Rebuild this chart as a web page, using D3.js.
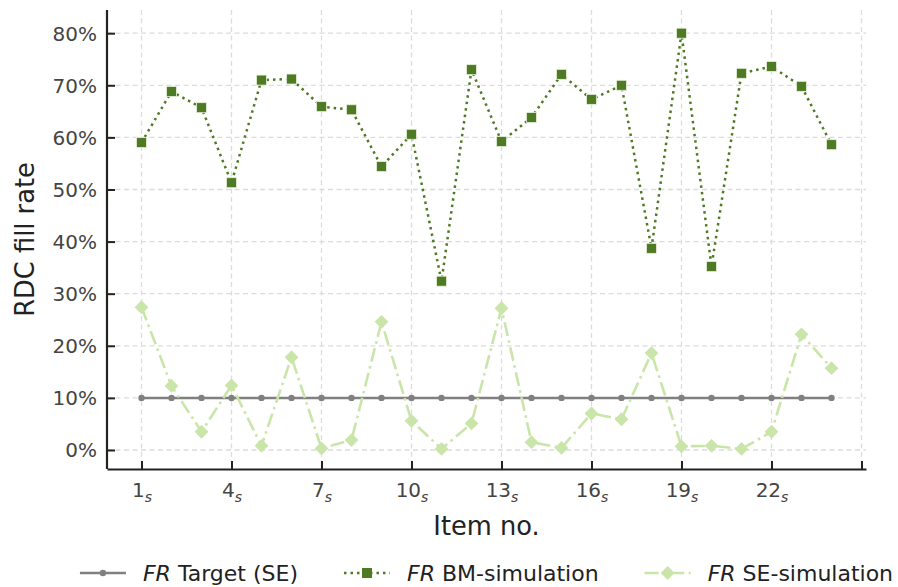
<!DOCTYPE html>
<html>
<head>
<meta charset="utf-8">
<script src="https://cdn.jsdelivr.net/npm/d3@7"></script>
<style>
  body { margin: 0; background: #fff; }
  svg { font-family: "DejaVu Sans", sans-serif; }
</style>
</head>
<body>
<svg id="chart" width="898" height="587"></svg>
<script>
// ---- data ----
const items = d3.range(1, 25);
const targetSE = [10,10,10,10,10,10,10,10,10,10,10,10,10,10,10,10,10,10,10,10,10,10,10,10];
const bmSim = [59.0,68.8,65.7,51.3,71.0,71.2,65.9,65.3,54.4,60.6,32.4,73.0,59.2,63.8,72.1,67.3,70.0,38.7,80.0,35.2,72.3,73.6,69.8,58.6];
const seSim = [27.4,12.3,3.5,12.4,0.8,17.8,0.3,1.9,24.6,5.6,0.2,5.1,27.2,1.5,0.4,7.0,5.9,18.6,0.7,0.8,0.2,3.5,22.2,15.7];
const xTicks = [1,4,7,10,13,16,19,22,25];
const xTickLabels = ["1","4","7","10","13","16","19","22",""];
const yTicks = [0,10,20,30,40,50,60,70,80];
const seriesNames = ["Target (SE)", "BM-simulation", "SE-simulation"];

// ---- layout ----
const svg = d3.select("#chart");
const L = 107, R = 866, T = 10, B = 469;
const x = d3.scaleLinear().domain([1 - 1.15, 24 + 1.15]).range([L, R]);
const y = d3.scaleLinear().domain([-3.65, 84.45]).range([B, T]);

const cTarget = "#808080", cBM = "#4e7a23", cSE = "#c9e5a9";
const sq = 5, dm = 6.9;

// grid
const grid = svg.append("g");
grid.selectAll("line.v").data(xTicks).join("line")
  .attr("x1", d => x(d)).attr("x2", d => x(d)).attr("y1", T).attr("y2", B)
  .attr("stroke", "#dcdcdc").attr("stroke-width", 1.3).attr("stroke-dasharray", "5,3.5");
grid.selectAll("line.h").data(yTicks).join("line")
  .attr("y1", d => y(d)).attr("y2", d => y(d)).attr("x1", L).attr("x2", R)
  .attr("stroke", "#dcdcdc").attr("stroke-width", 1.3).attr("stroke-dasharray", "5,3.5");

// axes
const xAxis = d3.axisBottom(x).tickValues(xTicks).tickSizeInner(-8).tickSizeOuter(0).tickPadding(12)
  .tickFormat("");
const gx = svg.append("g").attr("transform", `translate(0,${B})`).call(xAxis);
gx.attr("font-family", "DejaVu Sans");
gx.select(".domain").attr("stroke", "#222").attr("stroke-width", 2.2);
gx.selectAll(".tick line").attr("stroke", "#222").attr("stroke-width", 2);
gx.selectAll(".tick").each(function(d, i) {
  const lab = xTickLabels[i];
  if (!lab) return;
  const t = d3.select(this).append("text")
    .attr("y", 28).attr("fill", "#444").attr("font-size", 20).attr("text-anchor", "middle");
  t.append("tspan").text(lab);
  t.append("tspan").text("s").attr("font-style", "italic").attr("font-size", 14).attr("dy", 5);
});

const yAxis = d3.axisLeft(y).tickValues(yTicks).tickSizeInner(-8).tickSizeOuter(0).tickPadding(10)
  .tickFormat(d => d + "%");
const gy = svg.append("g").attr("transform", `translate(${L},0)`).call(yAxis);
gy.select(".domain").attr("stroke", "#222").attr("stroke-width", 2.2)
  .attr("d", `M0,${T}V${B}`);
gy.selectAll(".tick line").attr("stroke", "#222").attr("stroke-width", 2);
gy.selectAll(".tick text").attr("fill", "#444").attr("font-size", 20)
  .attr("font-family", "DejaVu Sans").attr("x", -10).attr("dy", "0.35em");

// axis labels
svg.append("text").attr("x", (L + R) / 2).attr("y", 535).attr("text-anchor", "middle")
  .attr("font-size", 25.7).attr("fill", "#222").text("Item no.");
svg.append("text").attr("transform", `translate(34,${(T + B) / 2}) rotate(-90)`)
  .attr("text-anchor", "middle").attr("font-size", 25.7).attr("fill", "#222").text("RDC fill rate");

// lines
const line = d3.line().x((d, i) => x(items[i])).y(d => y(d));
svg.append("path").datum(targetSE).attr("d", line).attr("fill", "none")
  .attr("stroke", cTarget).attr("stroke-width", 2.5);
svg.append("g").selectAll("circle").data(targetSE).join("circle")
  .attr("cx", (d, i) => x(items[i])).attr("cy", d => y(d)).attr("r", 3.2).attr("fill", cTarget);

svg.append("path").datum(seSim).attr("d", line).attr("fill", "none")
  .attr("stroke", cSE).attr("stroke-width", 2.6).attr("stroke-dasharray", "14,4.5,2.6,4.5");
const diamond = s => `M0,${-s}L${s},0L0,${s}L${-s},0Z`;
svg.append("g").selectAll("path").data(seSim).join("path")
  .attr("transform", (d, i) => `translate(${x(items[i])},${y(d)})`)
  .attr("d", diamond(dm)).attr("fill", cSE);

svg.append("path").datum(bmSim).attr("d", line).attr("fill", "none")
  .attr("stroke", cBM).attr("stroke-width", 2.5).attr("stroke-dasharray", "2.5,4");
svg.append("g").selectAll("rect").data(bmSim).join("rect")
  .attr("x", (d, i) => x(items[i]) - sq).attr("y", d => y(d) - sq)
  .attr("width", 2 * sq).attr("height", 2 * sq).attr("fill", cBM)
  .attr("stroke", "#e8f0dd").attr("stroke-width", 0.8);

// legend
const legY = 573;
const lg = svg.append("g");
const specs = [
  {name: seriesNames[0], color: cTarget, dash: null, mark: "circle"},
  {name: seriesNames[1], color: cBM, dash: "2.5,4", mark: "square"},
  {name: seriesNames[2], color: cSE, dash: "14,4.5,2.6,4.5", mark: "diamond"}
];
let cx = 0;
const positions = [];
specs.forEach((s, i) => {
  const g = lg.append("g");
  g.append("line").attr("x1", 0).attr("x2", 46).attr("y1", 0).attr("y2", 0)
    .attr("stroke", s.color).attr("stroke-width", 2.5).attr("stroke-dasharray", s.dash);
  if (s.mark === "circle") g.append("circle").attr("cx", 23).attr("r", 3.2).attr("fill", s.color);
  if (s.mark === "square") g.append("rect").attr("x", 23 - sq).attr("y", -sq).attr("width", 2 * sq).attr("height", 2 * sq).attr("fill", s.color);
  if (s.mark === "diamond") g.append("path").attr("transform", "translate(23,0)").attr("d", diamond(dm)).attr("fill", s.color);
  const t = g.append("text").attr("x", 63).attr("dy", "0.35em").attr("font-size", 22).attr("fill", "#222");
  t.append("tspan").attr("font-style", "italic").text("FR");
  t.append("tspan").text(" " + s.name);
  const w = 63 + t.node().getComputedTextLength();
  positions.push({g, x: cx});
  cx += w + 46;
});
const totalW = cx - 46;
const startX = (L + R) / 2 - totalW / 2;
positions.forEach(p => p.g.attr("transform", `translate(${startX + p.x},${legY})`));
</script>
</body>
</html>
